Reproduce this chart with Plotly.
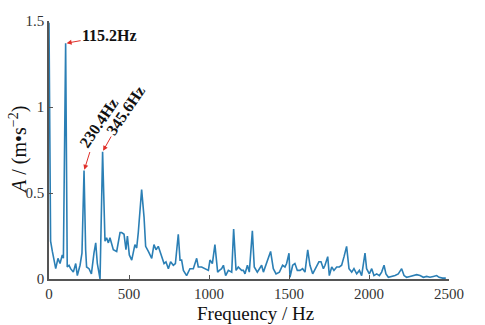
import plotly.graph_objects as go

# spectrum (Hz, m/s^2)
freq = [0, 10, 21, 31, 42, 56, 69, 83, 90, 104, 114, 125, 135, 152, 167, 177, 194, 206, 219, 229,
        235, 250, 265, 281, 292, 302, 319, 335, 350, 360, 371, 381, 402, 423, 444, 454, 469, 481, 490, 502,
        517, 537, 548, 558, 579, 594, 604, 621, 642, 656, 669, 683, 704, 719, 731, 746, 760, 777, 790, 808,
        819, 829, 840, 860, 881, 902, 923, 933, 954, 975, 996, 1006, 1021, 1037, 1048, 1054, 1065, 1079, 1090, 1104,
        1121, 1142, 1154, 1169, 1183, 1204, 1215, 1225, 1240, 1252, 1271, 1283, 1302, 1315, 1329, 1340, 1360, 1385, 1402, 1419,
        1440, 1460, 1475, 1485, 1500, 1506, 1523, 1537, 1552, 1569, 1585, 1600, 1617, 1631, 1648, 1669, 1687, 1700, 1715, 1725,
        1742, 1752, 1767, 1781, 1798, 1815, 1829, 1844, 1860, 1875, 1892, 1906, 1923, 1940, 1954, 1975, 1985, 2002, 2017, 2031,
        2048, 2065, 2079, 2094, 2106, 2121, 2142, 2163, 2183, 2204, 2219, 2235, 2256, 2277, 2298, 2319, 2340, 2360, 2381, 2402,
        2423, 2438, 2460, 2480]
amp = [1.49, 0.22, 0.16, 0.10, 0.06, 0.12, 0.09, 0.14, 0.12, 1.37, 0.07, 0.08, 0.06, 0.04, 0.09, 0.02, 0.08, 0.15, 0.63, 0.17,
       0.07, 0.06, 0.03, 0.15, 0.21, 0.09, 0.0, 0.74, 0.22, 0.24, 0.21, 0.24, 0.17, 0.16, 0.27, 0.27, 0.26, 0.17, 0.25, 0.14,
       0.11, 0.20, 0.18, 0.27, 0.52, 0.36, 0.19, 0.16, 0.12, 0.20, 0.17, 0.19, 0.13, 0.09, 0.10, 0.06, 0.10, 0.08, 0.09, 0.26,
       0.11, 0.11, 0.05, 0.02, 0.06, 0.06, 0.12, 0.07, 0.07, 0.06, 0.05, 0.11, 0.09, 0.20, 0.09, 0.04, 0.05, 0.06, 0.08, 0.02,
       0.05, 0.04, 0.29, 0.05, 0.07, 0.05, 0.05, 0.03, 0.08, 0.04, 0.28, 0.07, 0.04, 0.06, 0.08, 0.04, 0.09, 0.16, 0.06, 0.03,
       0.04, 0.08, 0.07, 0.09, 0.15, 0.01, 0.08, 0.09, 0.05, 0.05, 0.06, 0.04, 0.17, 0.08, 0.03, 0.07, 0.10, 0.10, 0.06, 0.08,
       0.13, 0.02, 0.07, 0.05, 0.07, 0.07, 0.08, 0.13, 0.19, 0.06, 0.04, 0.06, 0.03, 0.05, 0.02, 0.15, 0.06, 0.03, 0.06, 0.02,
       0.03, 0.02, 0.04, 0.08, 0.03, 0.01, 0.015, 0.02, 0.03, 0.06, 0.02, 0.01, 0.015, 0.02, 0.025, 0.02, 0.01, 0.015, 0.01, 0.015,
       0.02, 0.01, 0.005, 0.005]

# labelled peaks: index into freq/amp, text
peak_idx = [9, 18, 27]
peak_labels = ["115.2Hz", "230.4Hz", "345.6Hz"]

xticks = [0, 500, 1000, 1500, 2000, 2500]
yticks = [0, 0.5, 1, 1.5]
yticklabels = ["0", "0.5", "1", "1.5"]

fig = go.Figure()
fig.add_trace(go.Scatter(x=freq, y=amp, mode="lines",
                         line=dict(color="#2b7fb5", width=1.6), showlegend=False))

# label offsets (px) and angles for the arrows
offsets = [(44, -8, 0), (15, -48, -56), (23, -41, -56)]
for i, lab, (ax, ay, ang) in zip(peak_idx, peak_labels, offsets):
    fig.add_annotation(x=freq[i], y=amp[i], text="<b>" + lab + "</b>",
                       ax=ax, ay=ay, textangle=ang, showarrow=True,
                       arrowhead=2, arrowsize=1, arrowwidth=1, arrowcolor="#e0302a",
                       standoff=1, font=dict(family="Liberation Serif", size=16, color="#111"))

# axis titles as free text so they can sit where the original has them
fig.add_annotation(text="Frequency / Hz", xref="paper", yref="paper", x=0.515, y=0,
                   xanchor="center", yanchor="middle", yshift=-34, borderpad=0,
                   showarrow=False, font=dict(size=19, color="#111"))
fig.add_annotation(text="<i>A</i> / (m•s<sup>−2</sup>)", xref="paper", yref="paper", x=0, y=0.5,
                   xanchor="center", yanchor="middle", xshift=-31, textangle=-90,
                   showarrow=False, font=dict(size=20, color="#111"))

fig.update_layout(
    width=485, height=325,
    margin=dict(l=49, r=36, t=21, b=46),
    plot_bgcolor="white", paper_bgcolor="white",
    font=dict(family="Liberation Serif", size=15, color="#333"),
)
fig.update_xaxes(range=[0, 2500], tickvals=xticks, ticks="inside", ticklen=4,
                 tickcolor="#555", showgrid=False, zeroline=False, automargin=False,
                 showline=True, linecolor="#555", linewidth=1.5)
fig.update_yaxes(range=[0, 1.5], tickvals=yticks, ticktext=yticklabels, ticks="inside", ticklen=4,
                 tickcolor="#555", showgrid=False, zeroline=False, automargin=False,
                 showline=True, linecolor="#555", linewidth=1.5)

# drop the page's default body margin so the figure sits at the window corner
fig.write_html("out.html", config={"displayModeBar": False},
               post_script="document.body.style.margin='0';document.body.style.overflow='hidden';")
